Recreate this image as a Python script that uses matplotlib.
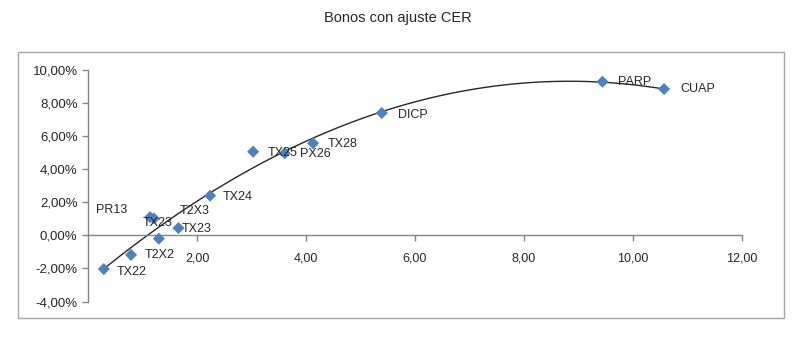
import numpy as np
import matplotlib
matplotlib.use("Agg")
import matplotlib.pyplot as plt
from matplotlib.patches import Rectangle
from matplotlib.ticker import FuncFormatter, FixedLocator

plt.rcParams['font.family'] = ['Liberation Sans', 'DejaVu Sans']

# Data (duration, yield %)
labels = ["TX22", "T2X2", "PR13", "TX23", "T2X3", "TX23", "TX24",
          "TX25", "PX26", "TX28", "DICP", "PARP", "CUAP"]
duration = [0.29, 0.79, 1.14, 1.21, 1.30, 1.66, 2.24,
            3.03, 3.61, 4.13, 5.39, 9.44, 10.57]
yield_pct = [-2.04, -1.18, 1.10, 1.02, -0.20, 0.44, 2.40,
             5.06, 4.97, 5.57, 7.40, 9.29, 8.85]

x_ticks = [2, 4, 6, 8, 10, 12]
y_ticks = [-4, -2, 0, 2, 4, 6, 8, 10]

# label offsets in pixels (style)
offsets = [(13, -3), (14, 0), (-54, 7), (-11, -5), (21, 28), (3, -1), (13, -1),
           (15, -1), (15, -1), (15, -1), (16, -2), (16, 0), (16, 0)]

fig = plt.figure(figsize=(8.0, 3.39), dpi=100)
fig.patches.append(Rectangle((18/800, 1-318/339), 766/800, 266/339,
                             transform=fig.transFigure, fill=False,
                             edgecolor='#A6A6A6', linewidth=1.0))
fig.text(398/800, 1-18/339, "Bonos con ajuste CER", ha='center', va='center',
         fontsize=10.5, color='#262626')

ax = fig.add_axes([88/800, 1-301.5/339, 654/800, 231.5/339])
ax.set_xlim(0, 12)
ax.set_ylim(-4, 10)

# trend line (2nd order polynomial)
coef = np.polyfit(duration, yield_pct, 2)
xs = np.linspace(min(duration), max(duration), 200)
ax.plot(xs, np.polyval(coef, xs), color='#262626', linewidth=1.0, zorder=2)

ax.scatter(duration, yield_pct, marker='D', s=38, color='#4F81BD',
           edgecolors='none', zorder=3)

for lab, x, y, off in zip(labels, duration, yield_pct, offsets):
    ax.annotate(lab, (x, y), xytext=off, textcoords='offset pixels',
                ha='left', va='center', fontsize=9, color='#262626', zorder=4)

for s in ['top', 'right']:
    ax.spines[s].set_visible(False)
ax.spines['left'].set_position(('data', 0))
ax.spines['bottom'].set_position(('data', 0))
for s in ['left', 'bottom']:
    ax.spines[s].set_color('#868686')
    ax.spines[s].set_linewidth(1.0)

ax.xaxis.set_major_locator(FixedLocator(x_ticks))
ax.yaxis.set_major_locator(FixedLocator(y_ticks))
ax.xaxis.set_major_formatter(FuncFormatter(lambda v, p: f"{v:.2f}".replace('.', ',')))
ax.yaxis.set_major_formatter(FuncFormatter(lambda v, p: f"{v:.2f}%".replace('.', ',')))
ax.tick_params(axis='both', colors='#868686', labelcolor='#262626',
               labelsize=9, length=4, width=1.0, direction='out')
ax.tick_params(axis='y', labelsize=9.5)
ax.tick_params(axis='x', pad=8)
ax.patch.set_alpha(0)

fig.savefig("out.png", dpi=100)
